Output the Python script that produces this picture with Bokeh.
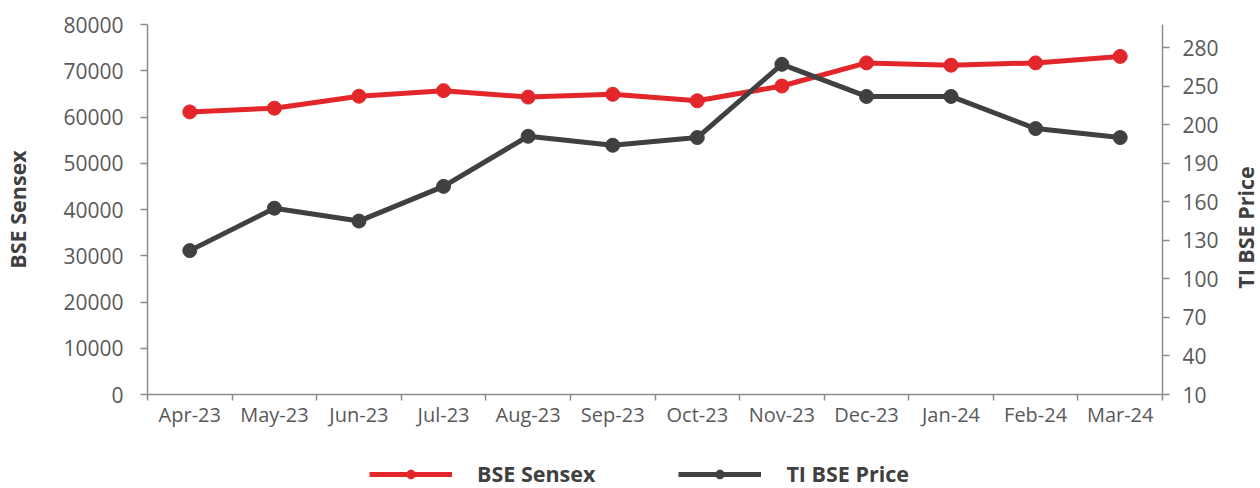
import math
from bokeh.plotting import figure
from bokeh.layouts import column, row
from bokeh.models import (Range1d, LinearAxis, FixedTicker, Legend, LegendItem, Label)
from bokeh.embed import file_html
from bokeh.resources import INLINE

months = ["Apr-23", "May-23", "Jun-23", "Jul-23", "Aug-23", "Sep-23",
          "Oct-23", "Nov-23", "Dec-23", "Jan-24", "Feb-24", "Mar-24"]
bse_sensex = [61100, 61900, 64500, 65700, 64300, 64900,
              63500, 66700, 71700, 71200, 71700, 73100]
ti_bse_price = [122, 155, 145, 172, 211, 204,
                210, 267, 242, 242, 217, 210]
left_ticks = [0, 10000, 20000, 30000, 40000, 50000, 60000, 70000, 80000]
right_ticks = [10, 40, 70, 100, 130, 160, 190, 220, 250, 280]
right_tick_labels = ["10", "40", "70", "100", "130", "160", "190", "200", "250", "280"]

RED = "#E3262A"
DARK = "#404040"
AXIS = "#8C8C8C"
TXT = "#595959"
FONT = "Open Sans"
TITLE_SIZE = "21.5px"

xs = [i + 0.5 for i in range(len(months))]

MAIN_W, MAIN_H = 1230, 434
p = figure(width=MAIN_W, height=MAIN_H, output_backend="svg", toolbar_location=None,
           x_range=Range1d(0, len(months)), y_range=Range1d(0, 80000),
           min_border_left=144, min_border_right=68, min_border_top=24,
           min_border_bottom=40)
p.extra_y_ranges = {"r": Range1d(10, 298)}
p.outline_line_color = None
p.grid.visible = False
p.background_fill_color = "white"
p.border_fill_color = "white"

# x axis: labels at category centres, ticks at category boundaries
xa = p.xaxis[0]
xa.ticker = FixedTicker(ticks=xs, minor_ticks=list(range(len(months) + 1)))
xa.major_label_overrides = {x: m for x, m in zip(xs, months)}
xa.major_tick_out = 0
xa.major_tick_in = 0
xa.minor_tick_out = 6
xa.minor_tick_in = 0
xa.minor_tick_line_color = AXIS
xa.minor_tick_line_width = 1.5
xa.axis_line_color = AXIS
xa.axis_line_width = 1.5
xa.major_label_text_font = FONT
xa.major_label_text_font_size = "20px"
xa.major_label_text_color = TXT
xa.major_label_standoff = 0

ya = p.yaxis[0]
ya.ticker = FixedTicker(ticks=left_ticks)
ya.minor_tick_line_color = None
ya.major_tick_out = 7
ya.major_tick_in = 0
ya.major_tick_line_color = AXIS
ya.major_tick_line_width = 1.5
ya.axis_line_color = AXIS
ya.axis_line_width = 1.5
ya.major_label_text_font = FONT
ya.major_label_text_font_size = "21px"
ya.major_label_text_color = TXT
ya.major_label_standoff = 17
ya.axis_label = "BSE Sensex"
ya.axis_label_text_font = FONT
ya.axis_label_text_font_style = "bold"
ya.axis_label_text_font_size = TITLE_SIZE
ya.axis_label_text_color = DARK
ya.axis_label_standoff = 28

ra = LinearAxis(y_range_name="r")
ra.ticker = FixedTicker(ticks=right_ticks)
ra.major_label_overrides = {t: l for t, l in zip(right_ticks, right_tick_labels)}
ra.minor_tick_line_color = None
ra.major_tick_out = 7
ra.major_tick_in = 0
ra.major_tick_line_color = AXIS
ra.major_tick_line_width = 1.5
ra.axis_line_color = AXIS
ra.axis_line_width = 1.5
ra.major_label_text_font = FONT
ra.major_label_text_font_size = "21px"
ra.major_label_text_color = TXT
ra.major_label_standoff = 13
p.add_layout(ra, "right")

l1 = p.line(xs, bse_sensex, line_color=RED, line_width=5)
s1 = p.scatter(xs, bse_sensex, size=14, fill_color=RED, line_color=RED)
l2 = p.line(xs, ti_bse_price, line_color=DARK, line_width=5, y_range_name="r")
s2 = p.scatter(xs, ti_bse_price, size=14, fill_color=DARK, line_color=DARK, y_range_name="r")

# right-hand axis title (reads bottom-to-top, as in the reference)
rt = figure(width=1260 - MAIN_W, height=MAIN_H, output_backend="svg", toolbar_location=None,
            x_range=Range1d(0, 1), y_range=Range1d(0, 1),
            min_border_left=0, min_border_right=0, min_border_top=0, min_border_bottom=0)
rt.axis.visible = False
rt.grid.visible = False
rt.outline_line_color = None
rt.add_layout(Label(x=15, y=167, x_units="screen", y_units="screen",
                    text="TI BSE Price", angle=math.pi / 2, text_align="center",
                    text_baseline="middle", text_font=FONT, text_font_style="bold",
                    text_font_size=TITLE_SIZE, text_color=DARK))

# legend strip below the chart (proxy glyphs kept outside the visible range)
LEG_H = 488 - MAIN_H
lg = figure(width=1260, height=LEG_H, output_backend="svg", toolbar_location=None,
            x_range=Range1d(0, 1), y_range=Range1d(0, 1),
            min_border_left=0, min_border_right=0, min_border_top=0, min_border_bottom=0)
lg.axis.visible = False
lg.grid.visible = False
lg.outline_line_color = None
ll1 = lg.line([-5, -4], [-5, -5], line_color=RED, line_width=5)
ls1 = lg.scatter([-5], [-5], size=13, fill_color=RED, line_color=RED)
ll2 = lg.line([-5, -4], [-5, -5], line_color=DARK, line_width=5)
ls2 = lg.scatter([-5], [-5], size=13, fill_color=DARK, line_color=DARK)
legend = Legend(items=[LegendItem(label="BSE Sensex", renderers=[ll1, ls1]),
                       LegendItem(label="TI BSE Price", renderers=[ll2, ls2])],
                orientation="horizontal", location=(369, 0))
legend.glyph_width = 83
legend.glyph_height = 22
legend.label_standoff = 25
legend.spacing = 83
legend.label_text_font = FONT
legend.label_text_font_style = "bold"
legend.label_text_font_size = TITLE_SIZE
legend.label_text_color = DARK
legend.border_line_color = None
legend.background_fill_alpha = 0
legend.margin = 0
legend.padding = 0
lg.add_layout(legend, "center")

layout = column(row(p, rt), lg)
open("out.html", "w").write(file_html(layout, INLINE))
